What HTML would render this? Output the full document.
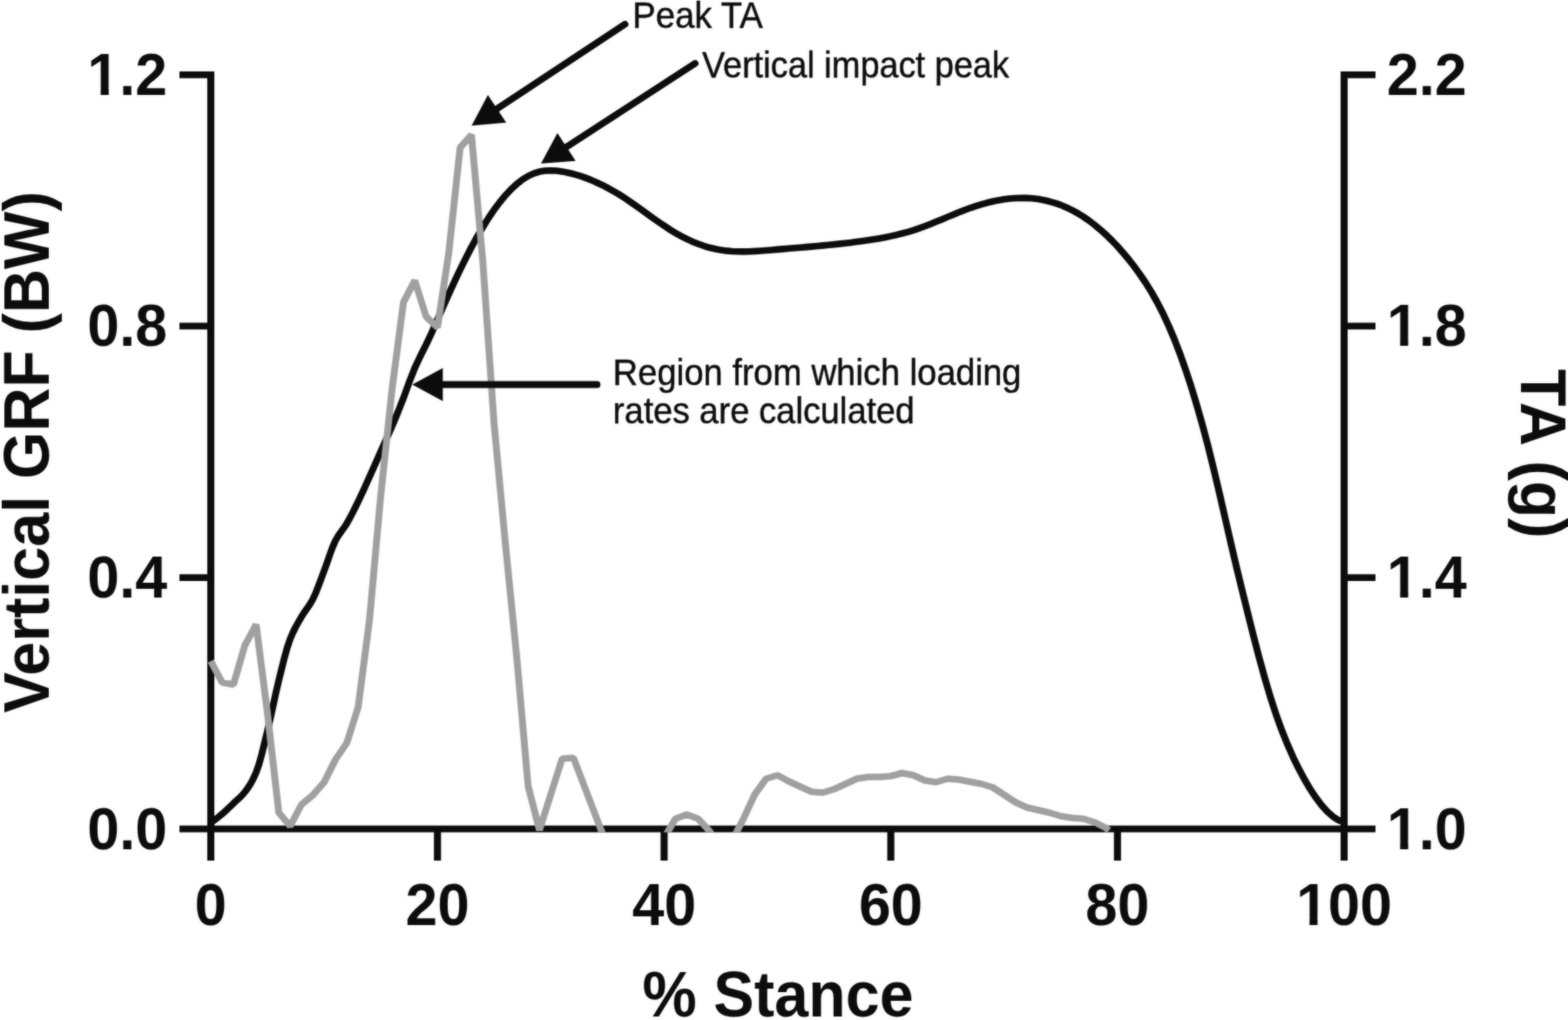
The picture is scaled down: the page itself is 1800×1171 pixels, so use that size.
<!DOCTYPE html>
<html lang="en"><head><meta charset="utf-8"><title>Vertical GRF and TA across stance</title>
<style>
html,body{margin:0;padding:0;background:#fff;}
body{width:1800px;height:1171px;overflow:hidden;}
svg{display:block;}
text{font-family:"Liberation Sans",sans-serif;fill:#0c0c0c;}
.tk{font-size:66px;font-weight:700;}
.ax{font-size:70px;font-weight:700;}
.an{font-size:40px;stroke:#0c0c0c;stroke-width:0.45px;}
</style></head><body>
<svg width="1800" height="1171" viewBox="0 0 1800 1171">
<defs><filter id="soft" color-interpolation-filters="sRGB" x="0" y="0" width="1800" height="1171" filterUnits="userSpaceOnUse"><feGaussianBlur stdDeviation="1"/></filter></defs>
<g id="fig">
<rect width="1800" height="1171" fill="#fff"/>
<defs><clipPath id="plot"><rect x="228.79" y="0" width="1258.76" height="955.6"/></clipPath></defs>
<g transform="scale(1.040,1)" fill="none">
<g stroke="#0c0c0c" stroke-width="7.8" stroke-linecap="butt">
<path d="M232.69,81.9 V988.0"/>
<path d="M1483.65,81.9 V988.0"/>
<path d="M198.08,951.7 H1518.27"/>
<path d="M198.08,85.8 H232.69"/>
<path d="M1483.65,85.8 H1518.27"/>
<path d="M198.08,374.4 H232.69"/>
<path d="M1483.65,374.4 H1518.27"/>
<path d="M198.08,663.1 H232.69"/>
<path d="M1483.65,663.1 H1518.27"/>
<path d="M482.88,951.7 V988.0"/>
<path d="M733.08,951.7 V988.0"/>
<path d="M983.27,951.7 V988.0"/>
<path d="M1233.46,951.7 V988.0"/>
</g>
<path d="M232.69,944.5 L235.82,942.2 L238.95,939.8 L242.07,937.2 L245.20,934.5 L248.33,931.6 L251.46,928.6 L254.58,925.5 L257.71,922.3 L260.84,919.3 L263.97,916.3 L267.09,913.1 L270.22,909.4 L273.35,905.0 L276.48,899.9 L279.60,893.9 L282.73,886.8 L285.86,877.5 L288.99,865.6 L292.11,852.4 L295.24,839.0 L298.37,825.0 L301.50,810.0 L304.62,794.9 L307.75,781.0 L310.88,767.8 L314.00,754.9 L317.13,743.2 L320.26,733.6 L323.39,726.0 L326.51,719.5 L329.64,713.7 L332.77,708.1 L335.90,703.0 L339.02,698.4 L342.15,693.6 L345.28,688.0 L348.41,681.0 L351.53,672.7 L354.66,664.0 L357.79,655.3 L360.92,646.3 L364.04,636.9 L367.17,628.0 L370.30,620.6 L373.43,615.0 L376.55,610.4 L379.68,605.9 L382.81,600.9 L385.94,595.1 L389.06,588.9 L392.19,582.5 L395.32,575.8 L401.57,562.0 L407.83,547.6 L414.08,532.9 L420.34,518.2 L426.59,503.7 L432.85,489.0 L439.10,473.5 L445.36,456.9 L451.61,439.1 L457.87,422.4 L464.12,408.5 L470.38,395.6 L476.63,381.7 L482.88,366.9 L489.14,352.1 L495.39,337.5 L501.65,323.2 L507.90,309.5 L514.16,296.3 L520.41,283.7 L526.67,271.9 L532.92,260.8 L539.18,250.4 L545.43,240.8 L551.69,232.1 L557.94,224.2 L564.20,217.2 L570.45,211.2 L576.71,206.1 L582.96,202.1 L589.22,199.1 L595.47,197.1 L601.73,196.0 L607.98,195.7 L614.24,196.0 L620.49,196.9 L626.75,198.2 L633.00,199.8 L639.25,201.7 L645.51,203.9 L651.76,206.4 L658.02,209.2 L664.27,212.2 L670.53,215.6 L676.78,219.2 L683.04,223.0 L689.29,227.2 L695.55,231.6 L701.80,236.1 L708.06,240.8 L714.31,245.5 L720.57,250.2 L726.82,254.8 L733.08,259.2 L739.33,263.5 L745.59,267.5 L751.84,271.1 L758.10,274.4 L764.35,277.4 L770.61,280.0 L776.86,282.3 L783.12,284.3 L789.37,285.8 L795.62,287.1 L801.88,287.9 L808.13,288.5 L814.39,288.8 L820.64,288.9 L826.90,288.7 L833.15,288.4 L839.41,288.0 L845.66,287.5 L851.92,287.0 L858.17,286.4 L864.43,285.9 L870.68,285.3 L876.94,284.7 L883.19,284.2 L889.45,283.6 L895.70,283.1 L901.96,282.5 L908.21,281.9 L914.47,281.2 L920.72,280.6 L926.98,279.9 L933.23,279.2 L939.49,278.4 L945.74,277.6 L952.00,276.7 L958.25,275.8 L964.50,274.8 L970.76,273.7 L977.01,272.5 L983.27,271.1 L989.52,269.7 L995.78,268.0 L1002.03,266.3 L1008.29,264.3 L1014.54,262.1 L1020.80,259.8 L1027.05,257.2 L1033.31,254.6 L1039.56,251.9 L1045.82,249.1 L1052.07,246.4 L1058.33,243.8 L1064.58,241.2 L1070.84,238.8 L1077.09,236.6 L1083.35,234.6 L1089.60,232.8 L1095.86,231.2 L1102.11,229.9 L1108.37,228.8 L1114.62,228.0 L1120.88,227.5 L1127.13,227.3 L1133.38,227.4 L1139.64,227.8 L1145.89,228.6 L1152.15,229.7 L1158.40,231.3 L1164.66,233.1 L1170.91,235.4 L1177.17,238.2 L1183.42,241.3 L1189.68,244.9 L1195.93,248.9 L1202.19,253.4 L1208.44,258.4 L1214.70,263.8 L1220.95,269.6 L1227.21,276.0 L1233.46,282.8 L1239.72,290.2 L1245.97,298.0 L1252.23,306.3 L1258.48,315.3 L1264.74,324.9 L1270.99,335.4 L1277.25,346.9 L1283.50,359.5 L1289.75,373.5 L1296.01,388.8 L1302.26,405.6 L1308.52,423.9 L1314.77,443.7 L1321.03,465.1 L1327.28,488.0 L1333.54,512.5 L1339.79,538.8 L1346.05,566.4 L1352.30,594.7 L1358.56,623.1 L1364.81,650.8 L1371.07,677.7 L1377.32,704.0 L1383.58,729.8 L1389.83,754.8 L1396.09,778.5 L1402.34,800.5 L1408.60,820.4 L1414.85,838.4 L1421.11,854.6 L1427.36,869.3 L1433.62,882.6 L1439.87,894.7 L1446.12,905.8 L1452.38,915.6 L1458.63,924.2 L1464.89,931.5 L1471.14,937.3 L1477.40,941.6 L1483.65,944.2" stroke="#0c0c0c" stroke-width="7.6" stroke-linejoin="round" stroke-linecap="butt" clip-path="url(#plot)"/>
<polyline points="232.69,759.0 245.20,783.5 257.71,786.0 270.22,741.0 282.73,717.0 295.24,819.0 307.75,932.8 320.26,948.5 332.77,923.6 345.28,913.0 357.79,898.0 370.30,872.0 382.81,853.0 395.32,812.0 407.83,712.0 420.34,568.0 432.85,446.0 445.36,347.0 457.87,322.0 470.38,363.5 482.88,376.0 495.39,290.0 507.90,169.5 520.41,154.8 532.92,300.0 545.43,487.0 557.94,625.0 570.45,755.0 582.96,902.5 595.47,953.0 607.98,912.0 620.49,871.0 633.00,870.0 645.51,904.0 658.02,938.0 670.53,972.0 683.04,990.0 695.55,990.0 708.06,990.0 720.57,985.0 733.08,962.0 745.59,940.0 758.10,935.0 770.61,940.0 783.12,954.0 795.62,975.0 808.13,965.0 820.64,940.0 833.15,912.0 845.66,894.0 858.17,890.0 870.68,897.0 883.19,903.0 895.70,909.0 908.21,910.0 920.72,906.0 933.23,900.0 945.74,894.0 958.25,892.0 970.76,892.0 983.27,891.0 995.78,887.5 1008.29,890.0 1020.80,896.0 1033.31,898.0 1045.82,894.0 1058.33,895.0 1070.84,897.5 1083.35,900.0 1095.86,904.0 1108.37,912.5 1120.88,921.0 1133.38,927.0 1145.89,930.0 1158.40,933.0 1170.91,937.0 1183.42,939.0 1195.93,940.0 1208.44,944.0 1220.95,950.6 1224.08,953.2" stroke="#a0a0a0" stroke-width="7.6" stroke-linejoin="bevel" clip-path="url(#plot)"/>
</g>
<line x1="568.9" y1="126.0" x2="717.5" y2="27.8" stroke="#0c0c0c" stroke-width="7.8" stroke-linecap="round"/><polygon points="541.4,144.2 581.1,140.8 560.1,109.0" fill="#0c0c0c"/>
<line x1="648.7" y1="169.8" x2="798.0" y2="72.8" stroke="#0c0c0c" stroke-width="7.8" stroke-linecap="round"/><polygon points="621.0,187.8 660.8,184.7 639.9,152.7" fill="#0c0c0c"/>
<line x1="506.3" y1="441.5" x2="685.4" y2="441.5" stroke="#0c0c0c" stroke-width="7.8" stroke-linecap="round"/><polygon points="473.3,441.5 508.3,460.6 508.3,422.4" fill="#0c0c0c"/>
<text class="tk" transform="translate(100.3,108.7) scale(1,1.030)">1.2</text><rect x="102.91" y="100.56" width="12.65" height="10.34" fill="#fff"/><rect x="124.81" y="100.56" width="11.91" height="10.34" fill="#fff"/>
<text class="tk" transform="translate(1592.0,108.7) scale(1,1.030)">2.2</text>
<text class="tk" transform="translate(100.3,397.3) scale(1,1.030)">0.8</text>
<text class="tk" transform="translate(1592.0,397.3) scale(1,1.030)">1.8</text><rect x="1594.66" y="389.20" width="12.65" height="10.34" fill="#fff"/><rect x="1616.56" y="389.20" width="11.91" height="10.34" fill="#fff"/>
<text class="tk" transform="translate(100.3,686.0) scale(1,1.030)">0.4</text>
<text class="tk" transform="translate(1592.0,686.0) scale(1,1.030)">1.4</text><rect x="1594.66" y="677.83" width="12.65" height="10.34" fill="#fff"/><rect x="1616.56" y="677.83" width="11.91" height="10.34" fill="#fff"/>
<text class="tk" transform="translate(100.3,974.6) scale(1,1.030)">0.0</text>
<text class="tk" transform="translate(1592.0,974.6) scale(1,1.030)">1.0</text><rect x="1594.66" y="966.46" width="12.65" height="10.34" fill="#fff"/><rect x="1616.56" y="966.46" width="11.91" height="10.34" fill="#fff"/>
<text class="tk" transform="translate(223.6,1061.6) scale(1,1.030)">0</text>
<text class="tk" transform="translate(465.5,1061.6) scale(1,1.030)">20</text>
<text class="tk" transform="translate(725.7,1061.6) scale(1,1.030)">40</text>
<text class="tk" transform="translate(985.9,1061.6) scale(1,1.030)">60</text>
<text class="tk" transform="translate(1246.1,1061.6) scale(1,1.030)">80</text>
<text class="tk" transform="translate(1487.9,1061.6) scale(1,1.030)">100</text><rect x="1490.60" y="1053.46" width="12.65" height="10.34" fill="#fff"/><rect x="1512.50" y="1053.46" width="11.91" height="10.34" fill="#fff"/>
<text class="ax" transform="translate(893,1167.4) scale(1,1.07)" text-anchor="middle">% Stance</text>
<text class="ax" transform="translate(56,519) rotate(-90) scale(1,1.07)" text-anchor="middle">Vertical GRF (BW)</text>
<text class="ax" transform="translate(1745.6,521) rotate(90) scale(1,1.07)" text-anchor="middle">TA (g)</text>
<text class="an" transform="translate(726,32.3) scale(1,1.06)">Peak TA</text>
<text class="an" transform="translate(806,88.5) scale(1,1.06)" style="font-size:39.4px">Vertical impact peak</text>
<text class="an" transform="translate(703.6,441.8) scale(1,1.06)" style="font-size:39.8px">Region from which loading</text>
<text class="an" transform="translate(703.6,485.6) scale(1,1.06)" style="font-size:39.7px">rates are calculated</text>
</g>
<use href="#fig" filter="url(#soft)" opacity="0.55"/>
</svg>
</body></html>
